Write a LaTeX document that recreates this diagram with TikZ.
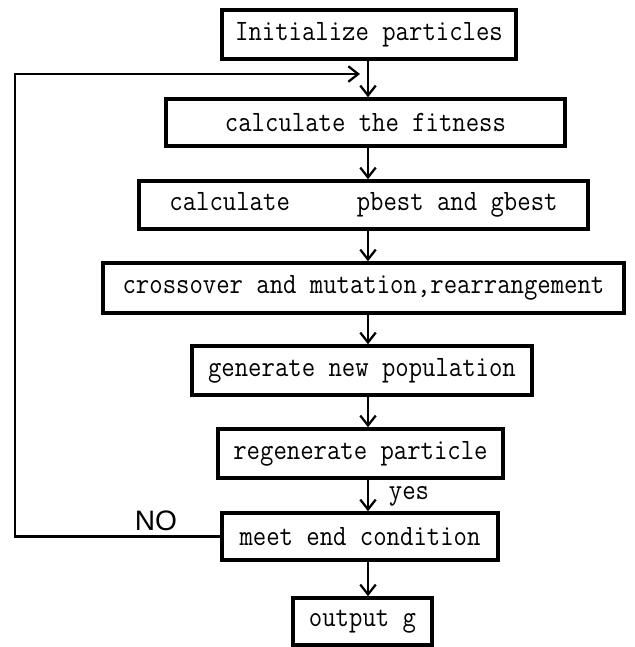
\documentclass[tikz,border=0pt]{standalone}
\usepackage{fontspec}
\newfontfamily\nofont{Liberation Sans}
\newfontfamily\flowtt[FakeStretch=0.88]{Latin Modern Mono}
\usetikzlibrary{arrows.meta}
\def\flowpx{0.025cm}
\def\flowfs{21}
\newcommand{\flowfont}{\flowtt\fontsize{\flowfs}{22}\selectfont}

\begin{document}
\begin{tikzpicture}[x=\flowpx,y=-\flowpx,line cap=round,
  stepbox/.style={draw,line width=2.5pt,inner sep=0pt,font=\flowfont},
  arr/.style={line width=1.6pt,-{Straight Barb[length=7pt,width=11pt,line width=1.6pt]}}]
  \useasboundingbox (0,0) rectangle (634,647);
  \coordinate (spine) at (368,0);
  \coordinate (loop) at (15,74);
  \coordinate (tip) at (360,74);
  \node[stepbox,minimum width=294*\flowpx,minimum height=49*\flowpx] (init) at (369,34.5) {Initialize particles};
  \node[stepbox,minimum width=399*\flowpx,minimum height=47*\flowpx] (fit) at (365.5,122.5) {calculate the fitness};
  \node[stepbox,minimum width=449*\flowpx,minimum height=48*\flowpx] (best) at (363.5,205) {calculate\ \ \ \ \ pbest and gbest};
  \node[stepbox,minimum width=521*\flowpx,minimum height=50*\flowpx] (cross) at (363.5,288) {crossover and mutation,rearrangement};
  \node[stepbox,minimum width=340*\flowpx,minimum height=49*\flowpx] (newpop) at (362,370.5) {generate new population};
  \node[stepbox,minimum width=285*\flowpx,minimum height=49*\flowpx] (regen) at (360.5,453.5) {regenerate particle};
  \node[stepbox,minimum width=276*\flowpx,minimum height=47*\flowpx] (endc) at (360,536.5) {meet end condition};
  \node[stepbox,minimum width=139*\flowpx,minimum height=47*\flowpx] (out) at (362.5,621.5) {output g};
  \foreach \a/\b in {init/fit, fit/best, best/cross, cross/newpop, newpop/regen, regen/endc, endc/out} {
    \draw[arr] (\a.south -| spine) -- (\b.north -| spine);
  }
  \node[font=\flowfont,anchor=west] (yes) at (384,496) {yes};
  \draw[arr] (endc.west) -| (loop) -- (tip);
  \node[font=\nofont\fontsize{20}{22}\selectfont] (no) at (156,521) {NO};
\end{tikzpicture}
\end{document}
